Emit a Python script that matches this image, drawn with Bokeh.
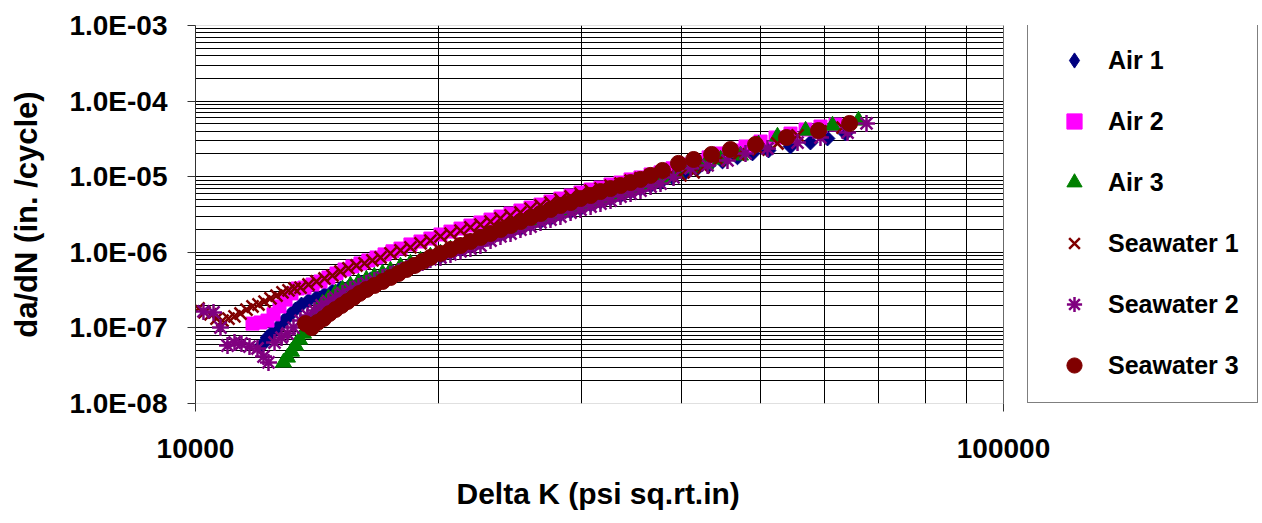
from bokeh.plotting import figure
from bokeh.models import (Range1d, FixedTicker, CustomJSTickFormatter, Legend, LegendItem,
                          BoxAnnotation, Title)
from bokeh.embed import file_html
from bokeh.resources import INLINE

# ---------------- data (Delta K in psi*sqrt(in), da/dN in in/cycle) ----------------
air1_dk = [12104, 12277, 12454, 12633, 12851, 13073, 13298, 13527, 13801, 14118, 14444, 14774,
           15117, 15550, 16003, 16460, 16943, 17430, 17935, 18450, 18987, 19530, 20099, 20680,
           21280, 21890, 22525, 23180, 23847, 24540, 25244, 25980, 26730, 27500, 28290, 29120,
           29955, 30830, 31710, 32630, 33574, 34550, 35540, 36580, 37627, 38941, 40287, 41692,
           43154, 44900, 46857, 48907, 51190, 54500, 57690, 60560, 63750]
air1_dadn = [6.03e-8, 7.46e-8, 8.69e-8, 1.01e-7, 1.22e-7, 1.46e-7, 1.75e-7, 2.04e-7, 2.30e-7, 2.52e-7,
             2.77e-7, 3.04e-7, 3.32e-7, 3.64e-7, 3.99e-7, 4.36e-7, 4.78e-7, 5.40e-7, 6.11e-7, 6.69e-7,
             7.34e-7, 8.04e-7, 8.81e-7, 9.97e-7, 1.09e-6, 1.23e-6, 1.35e-6, 1.52e-6, 1.72e-6, 1.88e-6,
             2.06e-6, 2.33e-6, 2.55e-6, 2.80e-6, 3.16e-6, 3.46e-6, 3.79e-6, 4.28e-6, 4.69e-6, 5.14e-6,
             5.64e-6, 6.36e-6, 6.97e-6, 7.64e-6, 8.37e-6, 9.78e-6, 1.10e-5, 1.25e-5, 1.41e-5, 1.59e-5,
             1.80e-5, 2.03e-5, 2.22e-5, 2.51e-5, 2.83e-5, 3.20e-5, 3.72e-5]

air2_dk = [11764, 12035, 12277, 12490, 12705, 12924, 13147, 13374, 13644, 13959, 14280, 14607,
           14945, 15291, 15639, 16003, 16367, 16750, 17138, 17529, 17935, 18450, 18987, 19530,
           20099, 20680, 21280, 21890, 22525, 23180, 23847, 24540, 25244, 25980, 26730, 27500,
           28290, 29120, 29955, 30830, 31710, 32630, 33574, 34550, 35540, 36580, 37627, 38941,
           40287, 41692, 43154, 44646, 46192, 47940, 50040, 52220, 54500, 56890, 59360, 61960]
air2_dadn = [1.14e-7, 1.18e-7, 1.25e-7, 1.51e-7, 1.92e-7, 2.37e-7, 2.86e-7, 3.32e-7, 3.42e-7, 3.75e-7,
             4.11e-7, 4.64e-7, 5.24e-7, 5.92e-7, 6.49e-7, 7.12e-7, 7.80e-7, 8.54e-7, 9.38e-7, 1.03e-6,
             1.12e-6, 1.27e-6, 1.39e-6, 1.52e-6, 1.72e-6, 1.88e-6, 2.06e-6, 2.26e-6, 2.48e-6, 2.71e-6,
             2.97e-6, 3.26e-6, 3.57e-6, 3.91e-6, 4.28e-6, 4.69e-6, 5.14e-6, 5.64e-6, 6.17e-6, 6.76e-6,
             7.19e-6, 7.88e-6, 8.37e-6, 9.20e-6, 9.78e-6, 1.07e-5, 1.14e-5, 1.29e-5, 1.45e-5, 1.59e-5,
             1.80e-5, 2.03e-5, 2.22e-5, 2.51e-5, 2.92e-5, 3.30e-5, 3.72e-5, 4.21e-5, 4.61e-5, 4.90e-5]

air3_dk = [12851, 12998, 13147, 13298, 13451, 13605, 13762, 13920, 14118, 14361, 14607, 14901,
           15203, 15550, 15912, 16273, 16649, 17040, 17430, 17935, 18450, 18987, 19530, 20099,
           20680, 21280, 21890, 22525, 23180, 23847, 24540, 25244, 25980, 26730, 27500, 28290,
           29120, 29955, 30830, 31710, 32630, 33574, 34550, 35540, 36580, 37842, 39377, 41000,
           42777, 44646, 47260, 49755, 52513, 56890, 61430, 66149]
air3_dadn = [3.49e-8, 4.06e-8, 4.87e-8, 5.85e-8, 7.02e-8, 8.43e-8, 1.04e-7, 1.33e-7, 1.70e-7, 2.10e-7,
             2.45e-7, 2.86e-7, 3.22e-7, 3.64e-7, 3.99e-7, 4.36e-7, 4.78e-7, 5.24e-7, 5.74e-7, 6.49e-7,
             7.12e-7, 7.80e-7, 8.81e-7, 9.67e-7, 1.09e-6, 1.19e-6, 1.35e-6, 1.48e-6, 1.67e-6, 1.88e-6,
             2.06e-6, 2.26e-6, 2.55e-6, 2.80e-6, 3.07e-6, 3.46e-6, 3.79e-6, 4.16e-6, 4.55e-6, 5.14e-6,
             5.64e-6, 6.17e-6, 6.76e-6, 7.64e-6, 8.37e-6, 9.48e-6, 1.10e-5, 1.29e-5, 1.45e-5, 1.69e-5,
             1.91e-5, 2.67e-5, 3.40e-5, 4.08e-5, 4.75e-5, 5.54e-5]

sw1_dk = [10086, 10260, 10437, 10618, 10799, 10986, 11176, 11368, 11565, 11764, 11967, 12173,
          12383, 12597, 12814, 13036, 13261, 13489, 13801, 14118, 14444, 14774, 15117, 15462,
          15821, 16187, 16554, 16943, 17430, 17935, 18450, 18987, 19530, 20099, 20680, 21280,
          21890, 22525, 23180, 23847, 24540, 25244, 25980, 26730, 27500, 28290, 29120, 29955,
          30830, 31710, 32630, 33574, 34550, 35540, 36580, 37627, 38720, 39829, 41353, 42531,
          44392, 46991, 49755, 52513, 55602, 59360, 63207]
sw1_dadn = [1.81e-7, 1.60e-7, 1.51e-7, 1.33e-7, 1.25e-7, 1.33e-7, 1.42e-7, 1.55e-7, 1.75e-7, 1.92e-7,
            2.04e-7, 2.23e-7, 2.45e-7, 2.68e-7, 2.95e-7, 3.13e-7, 3.32e-7, 3.42e-7, 3.75e-7, 4.11e-7,
            4.50e-7, 4.93e-7, 5.57e-7, 6.11e-7, 6.69e-7, 7.12e-7, 7.80e-7, 8.54e-7, 9.67e-7, 1.06e-6,
            1.16e-6, 1.31e-6, 1.43e-6, 1.62e-6, 1.77e-6, 1.94e-6, 2.13e-6, 2.33e-6, 2.55e-6, 2.80e-6,
            3.07e-6, 3.36e-6, 3.79e-6, 4.16e-6, 4.55e-6, 4.99e-6, 5.47e-6, 5.99e-6, 6.56e-6, 6.97e-6,
            7.64e-6, 8.12e-6, 8.90e-6, 9.48e-6, 1.04e-5, 1.10e-5, 1.10e-5, 1.04e-5, 1.14e-5, 1.33e-5,
            1.64e-5, 1.97e-5, 2.29e-5, 2.75e-5, 3.51e-5, 3.96e-5, 4.47e-5]

sw2_dk = [10230, 10527, 10738, 10955, 11176, 11400, 11664, 11932, 12138, 12312, 12526, 12777,
          12998, 13223, 13489, 13762, 14040, 14321, 14607, 14901, 15203, 15550, 15912, 16273,
          16649, 17040, 17430, 17833, 18240, 18662, 19095, 19530, 20099, 20680, 21280, 21890,
          22525, 23180, 23847, 24540, 25244, 25980, 26730, 27500, 28290, 29120, 29955, 30830,
          31710, 32630, 33574, 34550, 35540, 36580, 37627, 39053, 41000, 43030, 45540, 47940,
          51040, 55602, 59360, 64120, 67680]
sw2_dadn = [1.65e-7, 1.60e-7, 1.01e-7, 5.85e-8, 6.41e-8, 6.22e-8, 5.67e-8, 5.34e-8, 4.18e-8, 3.49e-8,
            6.41e-8, 7.46e-8, 8.43e-8, 1.01e-7, 1.25e-7, 1.46e-7, 1.70e-7, 1.98e-7, 2.23e-7, 2.52e-7,
            2.86e-7, 3.22e-7, 3.53e-7, 3.87e-7, 4.24e-7, 4.64e-7, 5.08e-7, 5.57e-7, 6.11e-7, 6.69e-7,
            7.34e-7, 8.04e-7, 8.54e-7, 9.38e-7, 1.03e-6, 1.12e-6, 1.23e-6, 1.43e-6, 1.62e-6, 1.77e-6,
            2.00e-6, 2.19e-6, 2.48e-6, 2.71e-6, 2.97e-6, 3.36e-6, 3.68e-6, 4.03e-6, 4.42e-6, 4.84e-6,
            5.47e-6, 5.99e-6, 6.56e-6, 7.41e-6, 8.12e-6, 9.78e-6, 1.29e-5, 1.41e-5, 1.64e-5, 2.03e-5,
            2.36e-5, 2.83e-5, 3.30e-5, 3.84e-5, 5.06e-5]

sw3_dk = [13683, 13920, 14158, 14403, 14648, 14901, 15160, 15418, 15684, 15958, 16273, 16649,
          17040, 17430, 17833, 18240, 18662, 19095, 19530, 20099, 20680, 21280, 21890, 22525,
          23180, 23847, 24540, 25244, 25980, 26730, 27500, 28290, 29120, 29955, 30830, 31710,
          32630, 33574, 34550, 35540, 36580, 37842, 39603, 41353, 43524, 45930, 49330, 53880,
          59022, 64486]
sw3_dadn = [1.14e-7, 1.01e-7, 1.18e-7, 1.33e-7, 1.55e-7, 1.75e-7, 1.98e-7, 2.23e-7, 2.52e-7, 2.86e-7,
            3.22e-7, 3.64e-7, 4.11e-7, 4.64e-7, 5.24e-7, 5.92e-7, 6.69e-7, 7.57e-7, 8.54e-7, 9.67e-7,
            1.09e-6, 1.23e-6, 1.39e-6, 1.57e-6, 1.77e-6, 2.00e-6, 2.26e-6, 2.55e-6, 2.88e-6, 3.26e-6,
            3.68e-6, 4.16e-6, 4.55e-6, 5.14e-6, 5.64e-6, 6.36e-6, 6.97e-6, 7.64e-6, 8.37e-6, 9.20e-6,
            1.04e-5, 1.21e-5, 1.50e-5, 1.69e-5, 1.97e-5, 2.29e-5, 2.67e-5, 3.30e-5, 4.08e-5, 5.06e-5]

series_names = ["Air 1", "Air 2", "Air 3", "Seawater 1", "Seawater 2", "Seawater 3"]
x_title = "Delta K (psi sq.rt.in)"
y_title = "da/dN (in. /cycle)"

x_major = [10000, 100000]
x_minor = [20000, 30000, 40000, 50000, 60000, 70000, 80000, 90000]
y_major = [1e-8, 1e-7, 1e-6, 1e-5, 1e-4, 1e-3]
y_minor = [m * d for d in [1e-8, 1e-7, 1e-6, 1e-5, 1e-4] for m in range(2, 10)]
x_lo, x_hi = 10000, 100000
y_lo, y_hi = 1e-8, 1e-3

FONT = "Liberation Sans"
W, H = 1262, 523
LEFT, TOP, BOTTOM = 195, 25, 120
PX_PER_DECADE = 808.0
# the frame runs to the right edge of the page so that the legend (drawn in it) is not clipped;
# the x range is extended beyond 100000 and that extra area is masked white.
x_view_end = 10 ** (4 + (W - LEFT) / PX_PER_DECADE)

p = figure(width=W, height=H, output_backend="svg", toolbar_location=None,
           x_axis_type="log", y_axis_type="log",
           x_range=Range1d(x_lo, x_view_end), y_range=Range1d(y_lo, y_hi),
           min_border_left=LEFT, min_border_right=0, min_border_top=TOP, min_border_bottom=BOTTOM)
p.background_fill_color = "white"
p.border_fill_color = "white"
p.outline_line_color = None

# axes
p.xaxis.ticker = FixedTicker(ticks=x_major, minor_ticks=x_minor)
p.yaxis.ticker = FixedTicker(ticks=y_major, minor_ticks=y_minor)
p.xaxis.formatter = CustomJSTickFormatter(code="return Math.round(tick).toString();")
p.yaxis.formatter = CustomJSTickFormatter(code="""
const e = Math.round(Math.log10(tick));
const a = Math.abs(e);
return "1.0E" + (e < 0 ? "-" : "+") + (a < 10 ? "0" : "") + a;
""")
for ax in (p.xaxis[0], p.yaxis[0]):
    ax.major_label_text_font = FONT
    ax.major_label_text_font_style = "bold"
    ax.major_label_text_font_size = "28px"
    ax.major_label_text_color = "black"
    ax.axis_label_text_font = FONT
    ax.axis_label_text_font_style = "bold"
    ax.axis_label_text_font_size = "31px"
    ax.axis_label_text_color = "black"
    ax.axis_line_color = "#333333"
    ax.major_tick_line_color = "#333333"
    ax.major_tick_out = 8
    ax.major_tick_in = 0
    ax.minor_tick_out = 0
    ax.minor_tick_in = 0
    ax.major_label_standoff = 20
    ax.axis_label_standoff = 22
p.yaxis.axis_label = y_title
p.xaxis.major_label_standoff = 27
p.xaxis.axis_line_color = None

# x-axis title, centred under the plot area (not under the whole, wider frame)
p.add_layout(Title(text=x_title, align="left", offset=261, standoff=28,
                   text_font=FONT, text_font_style="bold", text_font_size="30px",
                   text_color="black"), "below")

# grids
for g in (p.xgrid[0], p.ygrid[0]):
    g.grid_line_color = "black"
    g.grid_line_width = 1
    g.minor_grid_line_color = "black"
    g.minor_grid_line_width = 1

# mask to the right of the plot area, then the plot-area border
p.add_layout(BoxAnnotation(left=x_hi, fill_color="white", fill_alpha=1.0,
                           line_color=None, level="guide"))
p.add_layout(BoxAnnotation(left=x_lo, right=x_hi, bottom=y_lo, top=y_hi,
                           fill_alpha=0.0, line_color="#333333", line_width=1, level="guide"))

# series
r1 = p.scatter(air1_dk, air1_dadn, marker="square", angle=0.785398, size=10.5,
               fill_color="#000080", line_color="#000080")
r2 = p.scatter(air2_dk, air2_dadn, marker="square", size=13,
               fill_color="#FF00FF", line_color="#FF00FF")
r3 = p.scatter(air3_dk, air3_dadn, marker="triangle", size=16,
               fill_color="#008000", line_color="#008000")
r4 = p.scatter(sw1_dk, sw1_dadn, marker="x", size=17, line_width=2.5,
               line_color="#800000")
r5 = p.scatter(sw2_dk, sw2_dadn, marker="asterisk", size=17, line_width=2.5,
               line_color="#800080")
r6 = p.scatter(sw3_dk, sw3_dadn, marker="circle", size=16,
               fill_color="#800000", line_color="#800000")
# legend swatch for Air 1 (legend swatches are never rotated, so a diamond marker is used there;
# it holds a single NaN so that nothing is drawn in the plot area)
r1_key = p.scatter([float("nan")], [float("nan")], marker="diamond",
                   fill_color="#000080", line_color="#000080")

items = [LegendItem(label=n, renderers=[r]) for n, r in zip(series_names, [r1_key, r2, r3, r4, r5, r6])]
legend = Legend(items=items, location=(832, 0), orientation="vertical",
                label_text_font=FONT, label_text_font_style="bold", label_text_font_size="25px",
                label_text_color="black",
                glyph_width=56, glyph_height=38, label_height=38, label_standoff=6,
                spacing=23, padding=18, margin=0,
                border_line_color="black", border_line_width=1,
                background_fill_color="white", background_fill_alpha=1.0)
p.add_layout(legend, "center")

open("out.html", "w").write(file_html(p, INLINE))
